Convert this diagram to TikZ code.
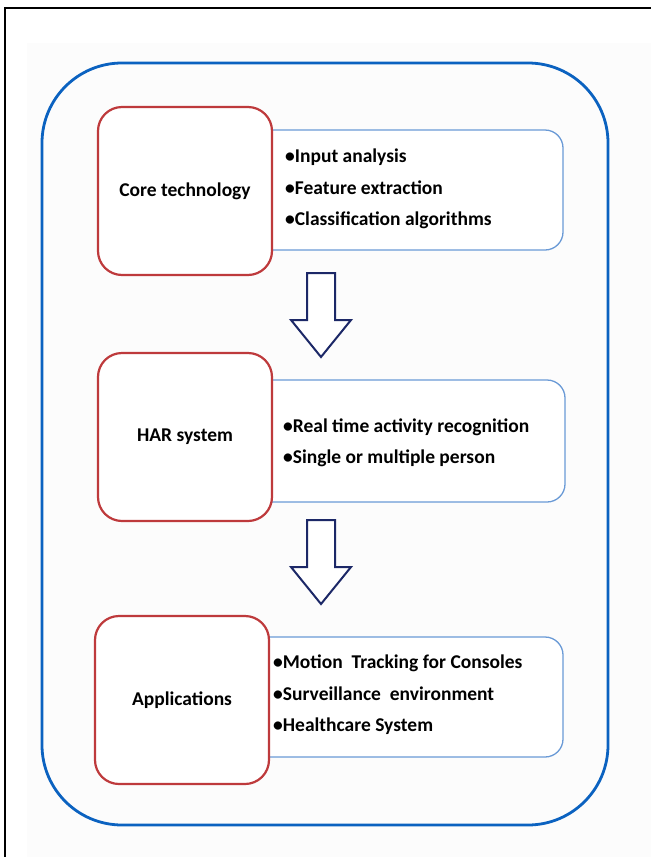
\documentclass[tikz,border=0pt]{standalone}
\usepackage{fontspec}
\setmainfont{Carlito}
\usepackage{xcolor}

\definecolor{outerblue}{HTML}{0B62C0}
\definecolor{boxred}{HTML}{BE3A3C}
\definecolor{boxblue}{HTML}{6A9AD6}
\definecolor{navy}{HTML}{1C2867}

\begin{document}
\begin{tikzpicture}[
    x=1pt, y=-1pt,
    stage/.style={draw=boxred, line width=2.2pt, fill=white, rounded corners=24pt,
        minimum width=174pt, minimum height=168pt, font=\bfseries\fontsize{19.5}{22}\selectfont},
    detail/.style={draw=boxblue, line width=1.3pt, fill=white, rounded corners=18pt},
    items/.style={align=left, anchor=west, inner sep=0pt, font=\bfseries\fontsize{19.5}{31.5}\selectfont},
    hollow/.style={draw=navy, line width=2pt, fill=white, line join=miter}
]
\useasboundingbox (0,0) rectangle (651,857);

% Frame and background
\fill[black!1.2] (27,43) rectangle (651,857);
\draw[line width=2pt] (5,857) -- (5,8) -- (651,8);

% Outer container
\draw[outerblue, line width=2.8pt, rounded corners=80pt] (42,63) rectangle (608,825);

% Detail boxes (behind the stage boxes)
\draw[detail] (230,130) rectangle (563,250);
\draw[detail] (230,380) rectangle (565,502);
\draw[detail] (226,637) rectangle (563,757);

% Stage boxes
\node[stage] (core) at (185,191) {Core technology};
\node[stage] (har) at (185,437) {HAR system};
\node[stage] (app) at (182,700) {Applications};

% Bullet lists
\node[items] (coreitems) at (285,189) {•Input analysis\\•Feature extraction\\•Classification algorithms};
\node[items] (haritems) at (283,443) {•Real time activity recognition\\•Single or multiple person};
\node[items] (appitems) at (273,695) {•Motion \ Tracking for Consoles\\•Surveillance \ environment\\•Healthcare System};

% Block arrows between stages
\coordinate (a1) at (321,273);
\coordinate (a2) at (321,520);
\foreach \a in {a1,a2}
  \draw[hollow] (\a) ++(-14,0) -- ++(28,0) -- ++(0,47) -- ++(16,0)
      -- ++(-30,37) -- ++(-30,-37) -- ++(16,0) -- cycle;

\end{tikzpicture}
\end{document}
